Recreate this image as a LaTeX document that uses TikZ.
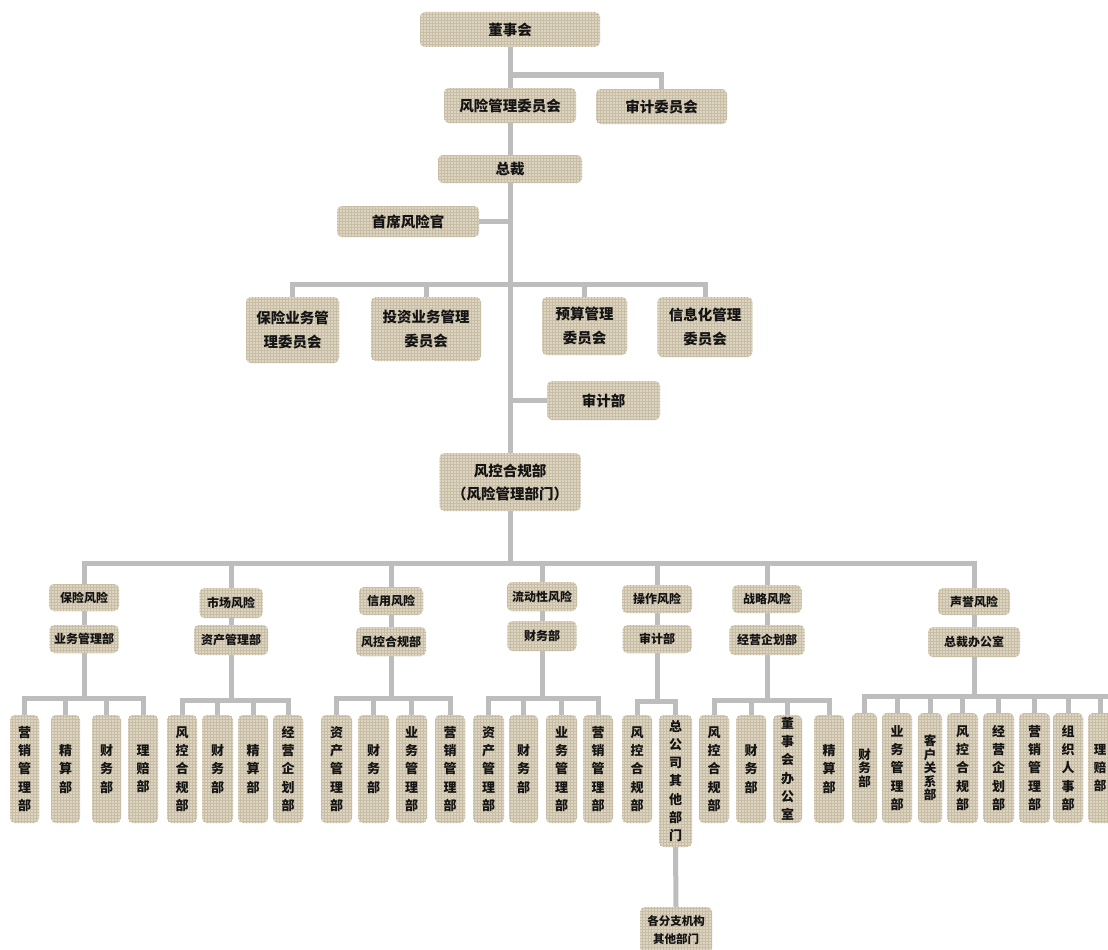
\documentclass[tikz,border=0pt]{standalone}
\usepackage{fontspec}
\setmainfont{Noto Sans CJK SC}
\usetikzlibrary{patterns}
\definecolor{boxfill}{RGB}{221,212,194}
\definecolor{boxgrid}{RGB}{200,189,165}
\definecolor{linec}{RGB}{189,189,189}
\definecolor{txt}{RGB}{20,20,20}
\newcommand\kid[4]{\node[box,lowf,minimum width=#2pt,minimum height=108pt] (#1) at (#3,769) {#4};}
\begin{document}
\begin{tikzpicture}[x=1pt,y=-1pt,
  box/.style={rounded corners=5pt, preaction={fill=boxfill}, pattern=grid, pattern color=boxgrid, inner sep=0pt, align=center, text=txt},
  topf/.style={font=\fontsize{14.5}{24}\selectfont\bfseries},
  midf/.style={font=\fontsize{12}{16}\selectfont\bfseries},
  lowf/.style={font=\fontsize{13}{18.3}\selectfont\bfseries},
  conn/.style={draw=linec, line width=5pt},
]
\useasboundingbox (0,0) rectangle (1108,950);
\fill[white] (0,0) rectangle (1108,950);
\clip (0,0) rectangle (1108,950);

% ---------- top levels ----------
\node[box,topf,minimum width=180pt,minimum height=35pt] (dsh) at (510,29.5) {董事会};
\node[box,topf,minimum width=132pt,minimum height=35pt] (fxw) at (510,105.5) {风险管理委员会};
\node[box,topf,minimum width=131pt,minimum height=35pt] (sjw) at (661.5,106.5) {审计委员会};
\node[box,topf,minimum width=144pt,minimum height=28pt] (zc) at (510,169) {总裁};
\node[box,topf,minimum width=142pt,minimum height=31pt] (sx) at (408,221.5) {首席风险官};
\node[box,topf,minimum width=93pt,minimum height=66pt] (c1) at (292.5,330) {保险业务管\\理委员会};
\node[box,topf,minimum width=110pt,minimum height=64pt] (c2) at (426,329) {投资业务管理\\委员会};
\node[box,topf,minimum width=85pt,minimum height=58pt] (c3) at (584.5,326) {预算管理\\委员会};
\node[box,topf,minimum width=95pt,minimum height=60pt] (c4) at (705,327) {信息化管理\\委员会};
\node[box,topf,minimum width=113pt,minimum height=39pt] (sjb) at (603.5,400.5) {审计部};
\node[box,topf,minimum width=141pt,minimum height=58pt,font=\fontsize{14.5}{23}\selectfont\bfseries] (fk) at (510,482) {风控合规部\\（风险管理部门）};

\coordinate (j1) at (510,75);
\coordinate (j2) at (510,284);
\draw[conn] (dsh.south) -- (fxw.north);
\draw[conn] (j1) -| (sjw.north);
\draw[conn] (fxw.south) -- (zc.north);
\draw[conn] (zc.south) -- (fk.north);
\draw[conn] (sx.east) -- (sx.east -| zc.south);
\draw[conn] (c1.north) |- (j2) -| (c4.north);
\draw[conn] (c2.north) -- (c2.north |- j2);
\draw[conn] (c3.north) -- (c3.north |- j2);
\draw[conn] (sjb.west) -- (sjb.west -| zc.south);

% ---------- risk categories ----------
\node[box,midf,minimum width=70pt,minimum height=27pt] (r1) at (84,597.5) {保险风险};
\node[box,midf,minimum width=69pt,minimum height=28pt] (d1) at (84,639) {业务管理部};
\node[box,midf,minimum width=63pt,minimum height=30pt] (r2) at (231,603) {市场风险};
\node[box,midf,minimum width=74pt,minimum height=30pt] (d2) at (231,640) {资产管理部};
\node[box,midf,minimum width=64pt,minimum height=28pt] (r3) at (391,601) {信用风险};
\node[box,midf,minimum width=70pt,minimum height=29pt] (d3) at (391,641.5) {风控合规部};
\node[box,midf,minimum width=70pt,minimum height=29pt] (r4) at (542,596.5) {流动性风险};
\node[box,midf,minimum width=69pt,minimum height=30pt] (d4) at (542,636) {财务部};
\node[box,midf,minimum width=70pt,minimum height=28pt] (r5) at (657,599) {操作风险};
\node[box,midf,minimum width=69pt,minimum height=28pt] (d5) at (657,639) {审计部};
\node[box,midf,minimum width=69pt,minimum height=28pt] (r6) at (767,599) {战略风险};
\node[box,midf,minimum width=75pt,minimum height=30pt] (d6) at (767,640) {经营企划部};
\node[box,midf,minimum width=72pt,minimum height=27pt] (r7) at (974,601.5) {声誉风险};
\node[box,midf,minimum width=92pt,minimum height=30pt] (d7) at (974,642) {总裁办公室};

\coordinate (mb) at (510,563);
\draw[conn] (fk.south) -- (mb);
\draw[conn] (r1.north) |- (mb) -| (r7.north);
\foreach \r in {r2,r3,r4,r5,r6} \draw[conn] (\r.north) -- (\r.north |- mb);
\foreach \i in {1,...,7} \draw[conn] (r\i.south) -- (d\i.north);

% ---------- group 1 ----------
\kid{g1a}{29}{24.5}{营\\销\\管\\理\\部}
\kid{g1b}{29}{65.5}{精\\算\\部}
\kid{g1c}{29}{106.5}{财\\务\\部}
\kid{g1d}{30}{143}{理\\赔\\部}
\coordinate (s1) at (84,698);
\draw[conn] (d1.south) -- (s1);
\draw[conn] (g1a.north) |- (s1) -| (g1d.north);
\draw[conn] (g1b.north) -- (g1b.north |- s1);
\draw[conn] (g1c.north) -- (g1c.north |- s1);

% ---------- group 2 ----------
\kid{g2a}{30}{182}{风\\控\\合\\规\\部}
\kid{g2b}{31}{217.5}{财\\务\\部}
\kid{g2c}{30}{253}{精\\算\\部}
\kid{g2d}{30}{288}{经\\营\\企\\划\\部}
\coordinate (s2) at (231,700);
\draw[conn] (d2.south) -- (s2);
\draw[conn] (g2a.north) |- (s2) -| (g2d.north);
\draw[conn] (g2b.north) -- (g2b.north |- s2);
\draw[conn] (g2c.north) -- (g2c.north |- s2);

% ---------- group 3 ----------
\kid{g3a}{31}{336.5}{资\\产\\管\\理\\部}
\kid{g3b}{31}{373.5}{财\\务\\部}
\kid{g3c}{31}{411.5}{业\\务\\管\\理\\部}
\kid{g3d}{30}{450}{营\\销\\管\\理\\部}
\coordinate (s3) at (391,698);
\draw[conn] (d3.south) -- (s3);
\draw[conn] (g3a.north) |- (s3) -| (g3d.north);
\draw[conn] (g3b.north) -- (g3b.north |- s3);
\draw[conn] (g3c.north) -- (g3c.north |- s3);

% ---------- group 4 ----------
\kid{g4a}{31}{488.5}{资\\产\\管\\理\\部}
\kid{g4b}{29}{523.5}{财\\务\\部}
\kid{g4c}{31}{561.5}{业\\务\\管\\理\\部}
\kid{g4d}{30}{598}{营\\销\\管\\理\\部}
\coordinate (s4) at (542,698);
\draw[conn] (d4.south) -- (s4);
\draw[conn] (g4a.north) |- (s4) -| (g4d.north);
\draw[conn] (g4b.north) -- (g4b.north |- s4);
\draw[conn] (g4c.north) -- (g4c.north |- s4);

% ---------- group 5 ----------
\kid{g5a}{30}{637}{风\\控\\合\\规\\部}
\node[box,lowf,minimum width=33pt,minimum height=132pt] (g5b) at (675.5,781) {总\\公\\司\\其\\他\\部\\门};
\node[box,font=\fontsize{11.5}{18}\selectfont\bfseries,minimum width=72pt,minimum height=46pt] (g5c) at (676,930) {各分支机构\\其他部门};
\coordinate (s5) at (657,701);
\draw[conn] (d5.south) -- (s5);
\draw[conn] (g5a.north) |- (s5) -| (g5b.north);
\draw[conn] (g5b.south) -- (g5c.north);

% ---------- group 6 ----------
\kid{g6a}{30}{714}{风\\控\\合\\规\\部}
\kid{g6b}{30}{751}{财\\务\\部}
\kid{g6c}{29}{787.5}{董\\事\\会\\办\\公\\室}
\kid{g6d}{30}{829}{精\\算\\部}
\coordinate (s6) at (767,700);
\draw[conn] (d6.south) -- (s6);
\draw[conn] (g6a.north) |- (s6) -| (g6d.north);
\draw[conn] (g6b.north) -- (g6b.north |- s6);
\draw[conn] (g6c.north) -- (g6c.north |- s6);

% ---------- group 7 ----------
\node[box,font=\fontsize{12.5}{13.5}\selectfont\bfseries,minimum width=25pt,minimum height=110pt] (g7a) at (864.5,768) {财\\务\\部};
\node[box,lowf,minimum width=30pt,minimum height=110pt] (g7b) at (897,768) {业\\务\\管\\理\\部};
\node[box,font=\fontsize{12.5}{13.5}\selectfont\bfseries,minimum width=24pt,minimum height=110pt] (g7c) at (930,768) {客\\户\\关\\系\\部};
\node[box,lowf,minimum width=31pt,minimum height=110pt] (g7d) at (962.5,768) {风\\控\\合\\规\\部};
\node[box,lowf,minimum width=31pt,minimum height=110pt] (g7e) at (998.5,768) {经\\营\\企\\划\\部};
\node[box,lowf,minimum width=31pt,minimum height=110pt] (g7f) at (1034.5,768) {营\\销\\管\\理\\部};
\node[box,lowf,minimum width=30pt,minimum height=110pt] (g7g) at (1068,768) {组\\织\\人\\事\\部};
\node[box,font=\fontsize{12.5}{18}\selectfont\bfseries,minimum width=24pt,minimum height=110pt] (g7h) at (1100,768) {理\\赔\\部};
\coordinate (s7) at (974,696);
\coordinate (s7end) at (1115,696);
\draw[conn] (d7.south) -- (s7);
\draw[conn] (g7a.north) |- (s7end);
\foreach \k in {g7b,g7c,g7d,g7e,g7f,g7g,g7h} \draw[conn] (\k.north) -- (\k.north |- s7);
\end{tikzpicture}
\end{document}
